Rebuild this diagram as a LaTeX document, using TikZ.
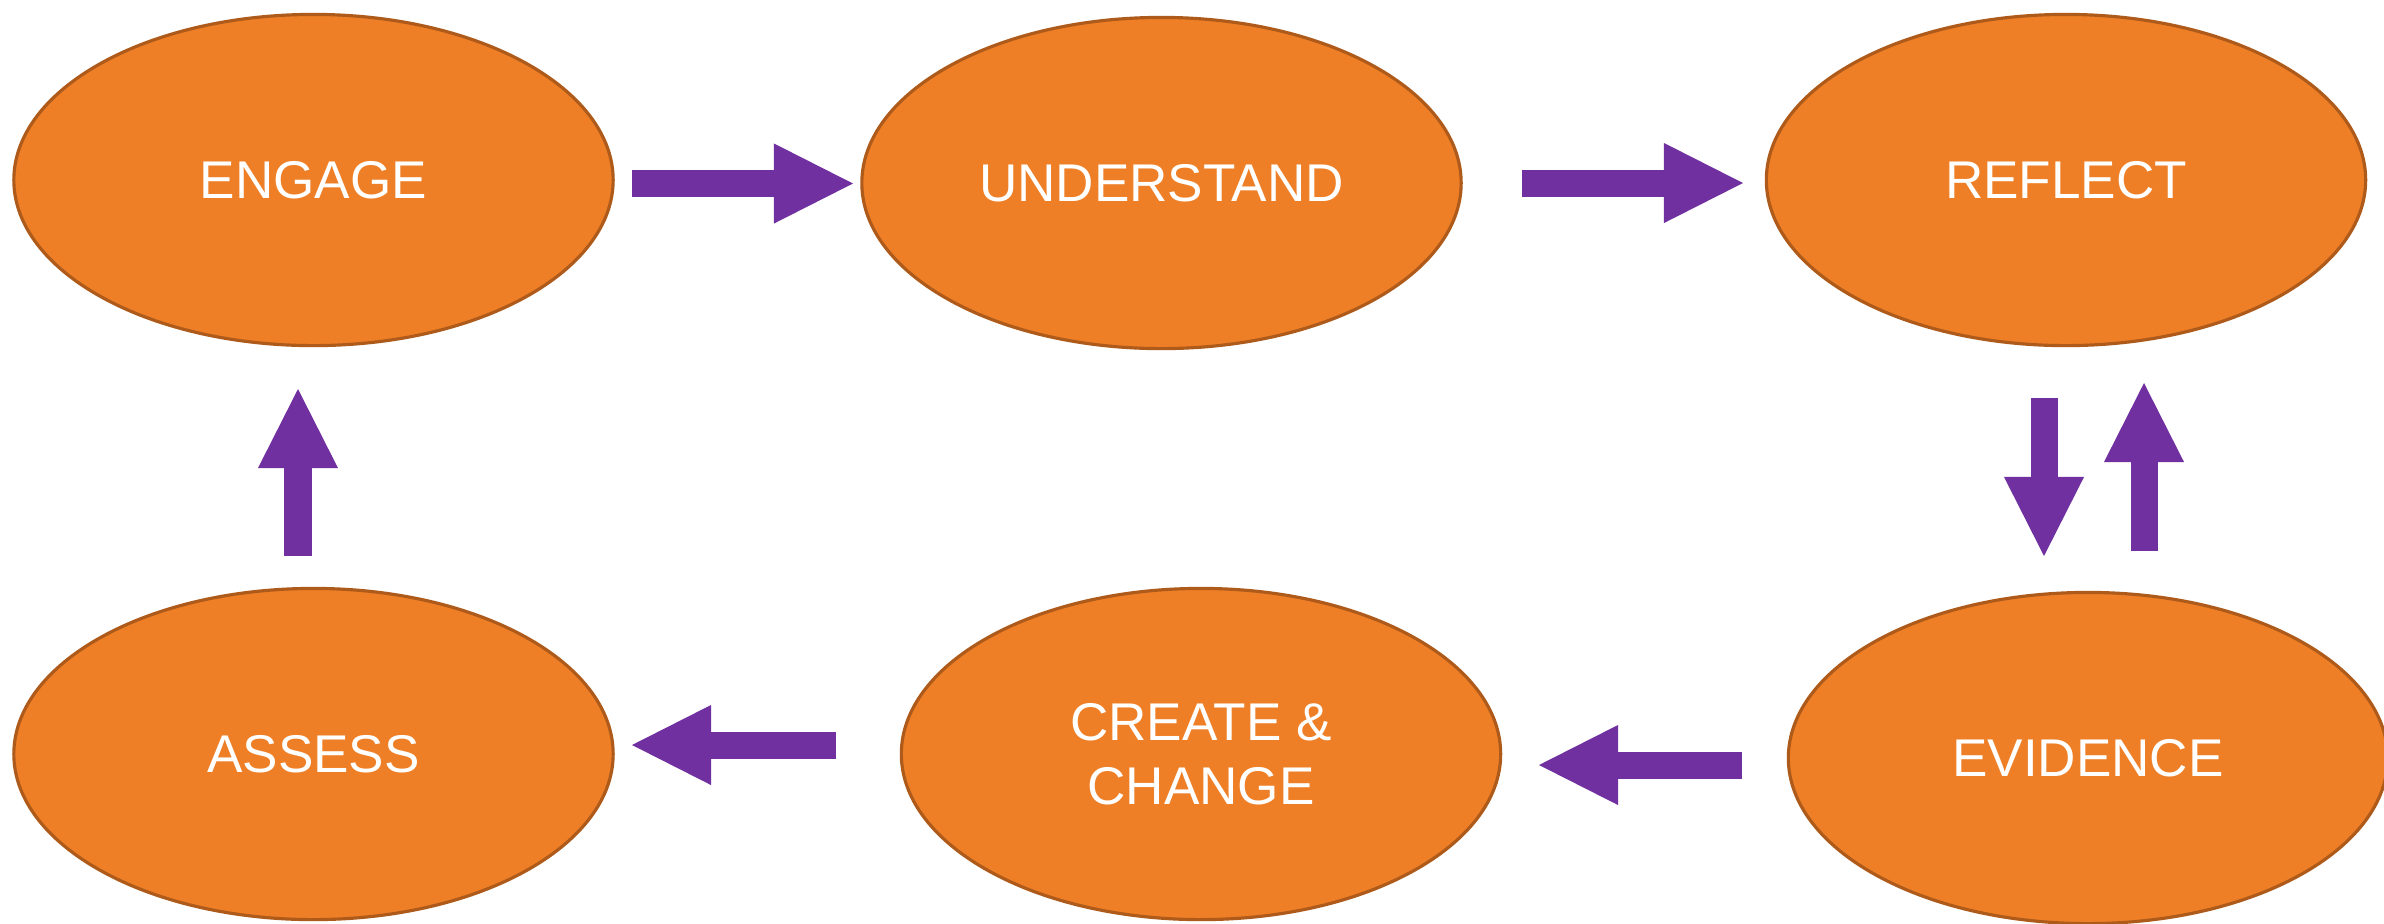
\documentclass[tikz,border=0pt]{standalone}
\usepackage{fontspec}
\setmainfont{Liberation Sans}
\usepackage{tikz}
\usetikzlibrary{shapes.geometric}
\usetikzlibrary{arrows.meta}

\definecolor{stageorange}{RGB}{238,127,38}
\definecolor{stageedge}{RGB}{174,90,26}
\definecolor{flowpurple}{RGB}{112,48,160}

\tikzset{
	stage/.style = {ellipse, draw = stageedge, line width = 0.9pt, fill = stageorange,
		minimum width = 5.99cm, minimum height = 3.31cm, inner sep = 0pt,
		text = white, align = center, font = \fontsize{15.1}{18.2}\selectfont},
	flow/.style = {flowpurple, line width = 0.27cm,
		-{Triangle[width = 0.8cm, length = 0.79cm, line width = 0pt]}}
}

\begin{document}
\begin{tikzpicture}[x = 0.01cm, y = -0.01cm]
	\useasboundingbox (0, 0) rectangle (2384, 923);

	% stages
	\node[stage](engage) at (313.5, 180){ENGAGE};
	\node[stage](understand) at (1161.5, 183){UNDERSTAND};
	\node[stage](reflect) at (2066, 180){REFLECT};
	\node[stage](evidence) at (2088, 758){EVIDENCE};
	\node[stage](create) at (1201, 754){CREATE \&\\CHANGE};
	\node[stage](assess) at (313.5, 754){ASSESS};

	% arrow ends
	\coordinate[](e2u) at (632, 183.5);
	\coordinate[](u2e) at (853, 183.5);
	\coordinate[](u2r) at (1522, 183);
	\coordinate[](r2u) at (1743, 183);
	\coordinate[](r2v) at (2044, 398);
	\coordinate[](v2r) at (2044, 556);
	\coordinate[](v2t) at (2144, 551);
	\coordinate[](t2v) at (2144, 383);
	\coordinate[](v2c) at (1742, 765);
	\coordinate[](c2v) at (1539, 765);
	\coordinate[](c2a) at (836, 745);
	\coordinate[](a2c) at (632, 745);
	\coordinate[](a2e) at (298, 556);
	\coordinate[](e2a) at (298, 389);

	\draw[flow] (e2u)--(u2e);
	\draw[flow] (u2r)--(r2u);
	\draw[flow] (r2v)--(v2r);
	\draw[flow] (v2t)--(t2v);
	\draw[flow] (v2c)--(c2v);
	\draw[flow] (c2a)--(a2c);
	\draw[flow] (a2e)--(e2a);
\end{tikzpicture}
\end{document}
